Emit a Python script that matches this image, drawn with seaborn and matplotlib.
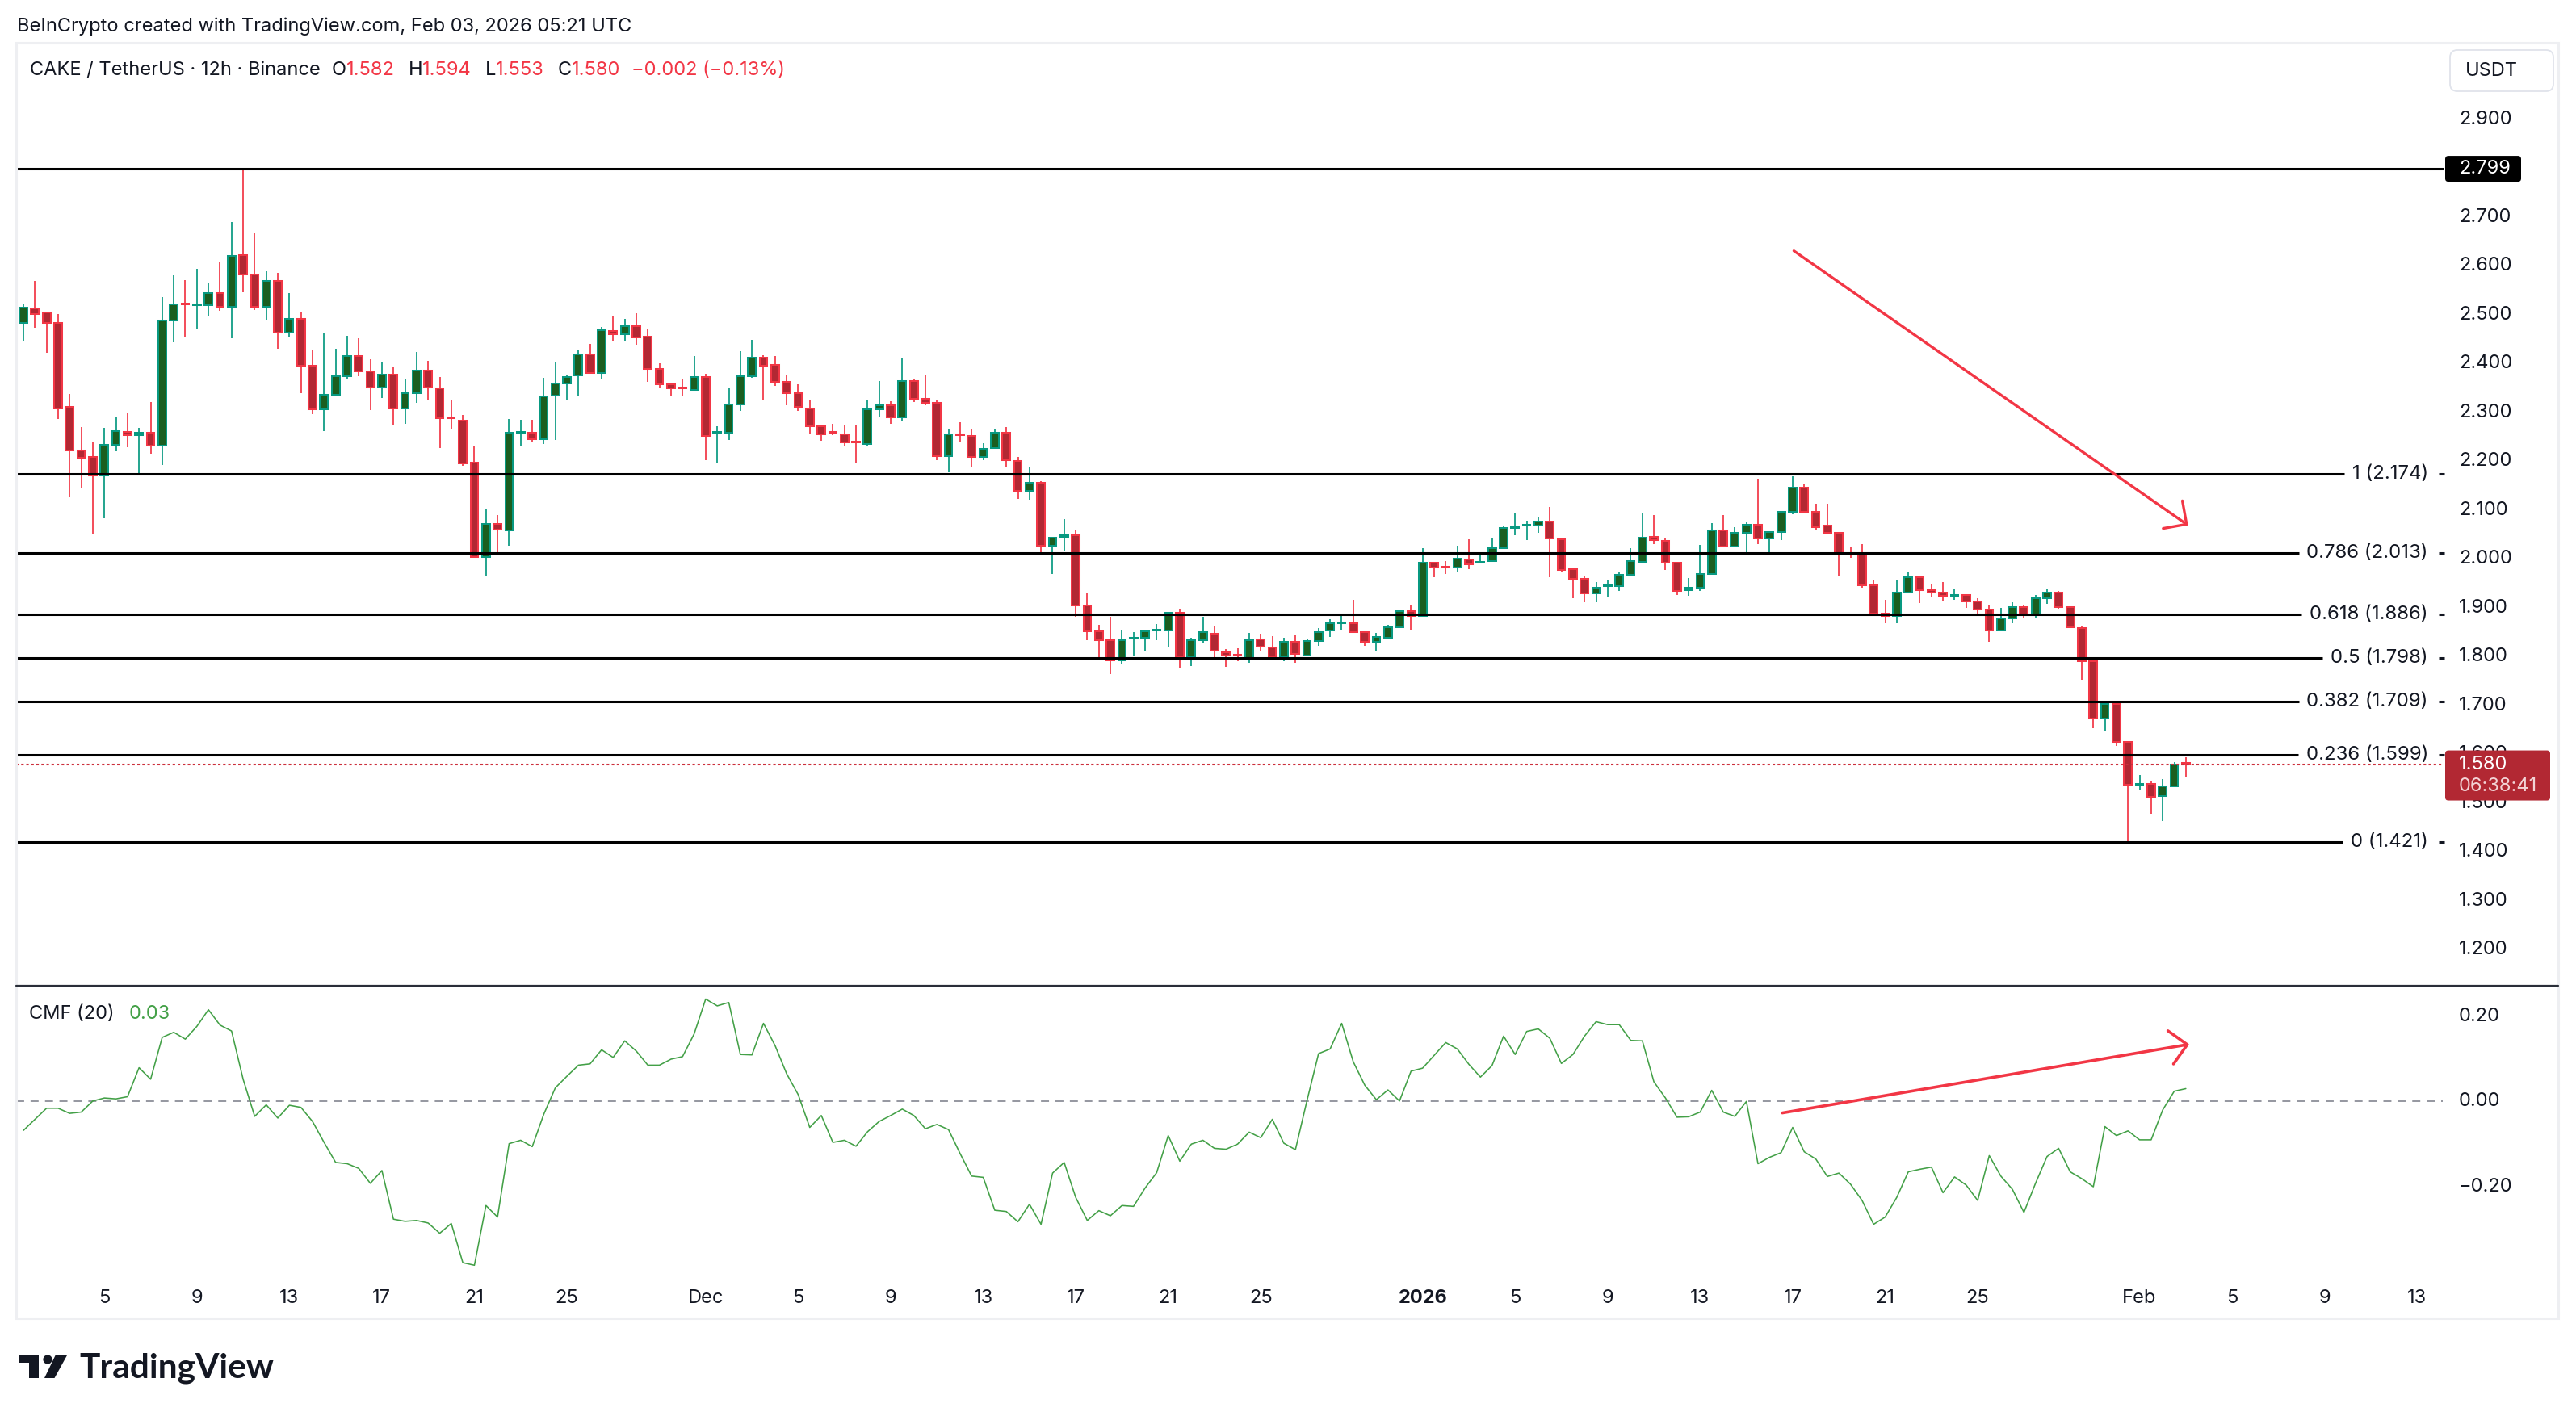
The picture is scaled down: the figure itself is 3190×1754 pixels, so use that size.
import numpy as np
import pandas as pd
import matplotlib.pyplot as plt
import seaborn as sns
from matplotlib.patches import Rectangle, FancyBboxPatch, Polygon, Circle, ArrowStyle
from matplotlib.transforms import blended_transform_factory

# CAKE/USDT 12h candles, Nov 01 2025 12:00 -> Feb 03 2026 00:00
start = pd.Timestamp("2025-11-01 12:00")

open_ = [2.483, 2.514, 2.505, 2.484, 2.311, 2.223, 2.209, 2.171, 2.234, 2.261,
         2.253, 2.259, 2.232, 2.488, 2.523, 2.519, 2.519, 2.544, 2.517, 2.623,
         2.583, 2.516, 2.570, 2.463, 2.492, 2.395, 2.306, 2.337, 2.375, 2.416,
         2.385, 2.352, 2.378, 2.308, 2.339, 2.386, 2.349, 2.289, 2.284, 2.197,
         2.004, 2.072, 2.059, 2.259, 2.259, 2.246, 2.334, 2.359, 2.376, 2.419,
         2.381, 2.467, 2.460, 2.476, 2.455, 2.390, 2.357, 2.351, 2.347, 2.372,
         2.258, 2.258, 2.316, 2.375, 2.412, 2.397, 2.362, 2.340, 2.309, 2.272,
         2.260, 2.256, 2.240, 2.235, 2.307, 2.314, 2.290, 2.365, 2.328, 2.319,
         2.211, 2.256, 2.252, 2.209, 2.227, 2.258, 2.200, 2.139, 2.156, 2.027,
         2.046, 2.049, 1.905, 1.852, 1.834, 1.792, 1.837, 1.838, 1.853, 1.853,
         1.890, 1.800, 1.833, 1.847, 1.809, 1.804, 1.798, 1.836, 1.819, 1.799,
         1.830, 1.803, 1.832, 1.853, 1.868, 1.868, 1.850, 1.831, 1.838, 1.861,
         1.893, 1.883, 1.992, 1.984, 1.982, 1.999, 1.992, 1.995, 2.023, 2.063,
         2.069, 2.068, 2.077, 2.041, 1.979, 1.959, 1.929, 1.945, 1.945, 1.967,
         1.994, 2.046, 2.037, 1.993, 1.936, 1.942, 1.969, 2.059, 2.026, 2.053,
         2.070, 2.042, 2.055, 2.096, 2.146, 2.097, 2.068, 2.053, 2.012, 2.010,
         1.946, 1.889, 1.883, 1.932, 1.962, 1.937, 1.931, 1.923, 1.926, 1.913,
         1.896, 1.854, 1.878, 1.902, 1.887, 1.919, 1.931, 1.902, 1.858, 1.791,
         1.674, 1.703, 1.626, 1.538, 1.540, 1.514, 1.535, 1.582]
high = [2.523, 2.569, 2.506, 2.501, 2.338, 2.271, 2.238, 2.268, 2.291, 2.300,
        2.269, 2.321, 2.537, 2.581, 2.571, 2.594, 2.564, 2.607, 2.690, 2.799,
        2.668, 2.590, 2.586, 2.544, 2.506, 2.427, 2.464, 2.430, 2.457, 2.452,
        2.409, 2.402, 2.392, 2.367, 2.424, 2.405, 2.372, 2.326, 2.295, 2.232,
        2.103, 2.090, 2.286, 2.285, 2.285, 2.371, 2.404, 2.376, 2.427, 2.440,
        2.475, 2.496, 2.491, 2.503, 2.470, 2.400, 2.359, 2.368, 2.416, 2.380,
        2.272, 2.349, 2.426, 2.449, 2.417, 2.416, 2.378, 2.357, 2.326, 2.272,
        2.277, 2.275, 2.274, 2.327, 2.365, 2.323, 2.413, 2.367, 2.376, 2.325,
        2.265, 2.280, 2.266, 2.237, 2.265, 2.270, 2.209, 2.187, 2.159, 2.045,
        2.082, 2.058, 1.930, 1.866, 1.881, 1.853, 1.850, 1.852, 1.867, 1.890,
        1.898, 1.838, 1.881, 1.864, 1.815, 1.818, 1.848, 1.847, 1.842, 1.838,
        1.843, 1.836, 1.858, 1.876, 1.889, 1.916, 1.851, 1.848, 1.866, 1.897,
        1.907, 2.022, 1.992, 1.995, 2.027, 2.040, 2.012, 2.042, 2.069, 2.093,
        2.078, 2.086, 2.107, 2.041, 1.980, 1.965, 1.952, 1.956, 1.974, 2.022,
        2.093, 2.090, 2.044, 1.994, 1.961, 2.029, 2.073, 2.090, 2.065, 2.077,
        2.165, 2.056, 2.099, 2.169, 2.153, 2.113, 2.113, 2.053, 2.025, 2.030,
        1.957, 1.916, 1.956, 1.972, 1.964, 1.949, 1.952, 1.938, 1.928, 1.920,
        1.905, 1.900, 1.912, 1.905, 1.926, 1.938, 1.935, 1.904, 1.862, 1.795,
        1.708, 1.709, 1.628, 1.558, 1.546, 1.550, 1.585, 1.594]
low = [2.445, 2.474, 2.422, 2.287, 2.127, 2.146, 2.052, 2.084, 2.221, 2.229,
       2.171, 2.216, 2.193, 2.444, 2.456, 2.470, 2.497, 2.508, 2.452, 2.546,
       2.510, 2.490, 2.431, 2.454, 2.340, 2.297, 2.262, 2.334, 2.370, 2.374,
       2.305, 2.330, 2.275, 2.277, 2.320, 2.325, 2.227, 2.265, 2.191, 2.004,
       1.966, 2.008, 2.028, 2.230, 2.241, 2.236, 2.244, 2.327, 2.335, 2.381,
       2.370, 2.447, 2.446, 2.439, 2.363, 2.352, 2.333, 2.335, 2.344, 2.203,
       2.198, 2.244, 2.303, 2.371, 2.327, 2.354, 2.314, 2.303, 2.257, 2.242,
       2.253, 2.233, 2.198, 2.233, 2.292, 2.276, 2.281, 2.322, 2.315, 2.203,
       2.177, 2.239, 2.187, 2.203, 2.225, 2.190, 2.123, 2.122, 2.007, 1.970,
       2.015, 1.881, 1.833, 1.794, 1.764, 1.786, 1.801, 1.813, 1.834, 1.820,
       1.776, 1.781, 1.828, 1.795, 1.780, 1.791, 1.788, 1.811, 1.794, 1.791,
       1.788, 1.803, 1.823, 1.841, 1.853, 1.848, 1.823, 1.813, 1.837, 1.860,
       1.855, 1.883, 1.963, 1.970, 1.975, 1.979, 1.992, 1.995, 2.021, 2.048,
       2.038, 2.054, 1.963, 1.975, 1.920, 1.912, 1.912, 1.921, 1.935, 1.967,
       1.994, 2.031, 1.978, 1.927, 1.924, 1.935, 1.969, 2.026, 2.025, 2.012,
       2.031, 2.012, 2.038, 2.092, 2.094, 2.059, 2.054, 1.965, 2.002, 1.942,
       1.887, 1.869, 1.869, 1.932, 1.910, 1.921, 1.915, 1.917, 1.900, 1.883,
       1.830, 1.854, 1.869, 1.878, 1.878, 1.909, 1.898, 1.858, 1.753, 1.654,
       1.648, 1.617, 1.420, 1.528, 1.479, 1.464, 1.535, 1.553]
close = [2.515, 2.502, 2.484, 2.308, 2.223, 2.208, 2.171, 2.234, 2.262, 2.253,
         2.258, 2.232, 2.488, 2.521, 2.521, 2.521, 2.545, 2.517, 2.621, 2.583,
         2.516, 2.570, 2.463, 2.492, 2.395, 2.307, 2.337, 2.375, 2.416, 2.385,
         2.352, 2.378, 2.308, 2.339, 2.386, 2.351, 2.289, 2.288, 2.196, 2.004,
         2.072, 2.060, 2.259, 2.261, 2.246, 2.333, 2.359, 2.373, 2.419, 2.381,
         2.468, 2.460, 2.477, 2.454, 2.390, 2.357, 2.349, 2.349, 2.372, 2.252,
         2.260, 2.316, 2.375, 2.412, 2.396, 2.362, 2.339, 2.311, 2.272, 2.256,
         2.258, 2.239, 2.239, 2.306, 2.314, 2.290, 2.365, 2.328, 2.320, 2.210,
         2.256, 2.253, 2.209, 2.226, 2.258, 2.202, 2.139, 2.156, 2.027, 2.043,
         2.049, 1.905, 1.852, 1.833, 1.792, 1.834, 1.838, 1.852, 1.855, 1.890,
         1.800, 1.833, 1.850, 1.812, 1.803, 1.802, 1.834, 1.820, 1.799, 1.831,
         1.806, 1.832, 1.851, 1.868, 1.870, 1.851, 1.831, 1.840, 1.861, 1.894,
         1.883, 1.992, 1.982, 1.983, 2.000, 1.989, 1.994, 2.023, 2.063, 2.067,
         2.070, 2.077, 2.042, 1.978, 1.959, 1.929, 1.942, 1.946, 1.967, 1.995,
         2.044, 2.039, 1.993, 1.935, 1.942, 1.969, 2.059, 2.026, 2.053, 2.070,
         2.042, 2.055, 2.096, 2.146, 2.097, 2.066, 2.054, 2.010, 2.010, 1.946,
         1.889, 1.883, 1.932, 1.962, 1.937, 1.931, 1.924, 1.926, 1.913, 1.897,
         1.854, 1.878, 1.902, 1.887, 1.919, 1.931, 1.902, 1.860, 1.791, 1.673,
         1.703, 1.625, 1.538, 1.540, 1.513, 1.534, 1.579, 1.580]

# Chaikin Money Flow (20)
cmf = [-0.068, -0.042, -0.016, -0.016, -0.028, -0.025, 0.001, 0.008, 0.006, 0.011,
       0.079, 0.052, 0.150, 0.162, 0.146, 0.176, 0.215, 0.179, 0.165, 0.052,
       -0.035, -0.008, -0.039, -0.009, -0.014, -0.047, -0.096, -0.143, -0.146, -0.157,
       -0.192, -0.162, -0.276, -0.281, -0.279, -0.285, -0.309, -0.286, -0.378, -0.384,
       -0.244, -0.271, -0.099, -0.091, -0.106, -0.030, 0.032, 0.059, 0.085, 0.088,
       0.121, 0.103, 0.142, 0.118, 0.085, 0.085, 0.099, 0.105, 0.158, 0.240,
       0.224, 0.232, 0.110, 0.109, 0.183, 0.131, 0.065, 0.016, -0.061, -0.033,
       -0.096, -0.091, -0.105, -0.071, -0.047, -0.033, -0.018, -0.033, -0.064, -0.054,
       -0.066, -0.122, -0.175, -0.178, -0.255, -0.258, -0.282, -0.241, -0.288, -0.168,
       -0.143, -0.225, -0.279, -0.256, -0.268, -0.244, -0.246, -0.203, -0.167, -0.080,
       -0.140, -0.100, -0.091, -0.110, -0.112, -0.100, -0.072, -0.085, -0.042, -0.098,
       -0.113, 0.002, 0.112, 0.123, 0.183, 0.093, 0.038, 0.004, 0.027, 0.001,
       0.071, 0.078, 0.108, 0.138, 0.123, 0.087, 0.057, 0.084, 0.153, 0.110,
       0.164, 0.170, 0.148, 0.089, 0.110, 0.153, 0.187, 0.180, 0.180, 0.143,
       0.142, 0.046, 0.008, -0.037, -0.036, -0.025, 0.026, -0.025, -0.035, 0.000,
       -0.146, -0.131, -0.120, -0.061, -0.118, -0.135, -0.176, -0.168, -0.194, -0.232,
       -0.288, -0.271, -0.225, -0.165, -0.159, -0.154, -0.214, -0.177, -0.196, -0.232,
       -0.127, -0.175, -0.206, -0.260, -0.192, -0.129, -0.110, -0.165, -0.181, -0.200,
       -0.059, -0.080, -0.069, -0.090, -0.090, -0.020, 0.024, 0.030]

fib_ratio = ["1", "0.786", "0.618", "0.5", "0.382", "0.236", "0"]
fib_price = [2.174, 2.013, 1.886, 1.798, 1.709, 1.599, 1.421]
swing_high = 2.799
last_price = 1.580
countdown = "06:38:41"

price_ticks = [1.2, 1.3, 1.4, 1.5, 1.6, 1.7, 1.8, 1.9, 2.0, 2.1, 2.2, 2.3, 2.4, 2.5, 2.6, 2.7, 2.8, 2.9]
cmf_ticks = [0.2, 0.0, -0.2]
cmf_tick_labels = ["0.20", "0.00", "\u22120.20"]

tick_dates = ["2025-11-05", "2025-11-09", "2025-11-13", "2025-11-17", "2025-11-21", "2025-11-25",
              "2025-12-01", "2025-12-05", "2025-12-09", "2025-12-13", "2025-12-17", "2025-12-21",
              "2025-12-25", "2026-01-01", "2026-01-05", "2026-01-09", "2026-01-13", "2026-01-17",
              "2026-01-21", "2026-01-25", "2026-02-01", "2026-02-05", "2026-02-09", "2026-02-13"]
tick_labels = ["5", "9", "13", "17", "21", "25", "Dec", "5", "9", "13", "17", "21", "25",
               "2026", "5", "9", "13", "17", "21", "25", "Feb", "5", "9", "13"]

# hand drawn arrows (bar index, value)
price_arrow = [(153.1, 2.631), (187.2, 2.069)]
cmf_arrow = [(152.1, -0.027), (187.3, 0.134)]

legend_parts = [("CAKE / TetherUS \u00b7 12h \u00b7 Binance", "dark", 0),
                ("O", "dark", 14), ("1.582", "red", 0),
                ("H", "dark", 17), ("1.594", "red", 0),
                ("L", "dark", 17), ("1.553", "red", 0),
                ("C", "dark", 17), ("1.580", "red", 0),
                ("\u22120.002 (\u22120.13%)", "red", 13)]

# ---------------------------------------------------------------
sns.set_theme(style="white")
plt.rcParams['font.family'] = ['Inter', 'DejaVu Sans']

DARK = "#131722"
RED = "#f23645"
RED_FILL = "#b22833"
GREEN = "#089981"
GREEN_FILL = "#1b5e20"
CMF_GREEN = "#43a047"
FS = 17

W, H = 3190, 1754
fig = plt.figure(figsize=(W / 100, H / 100), dpi=100)
fig.patch.set_facecolor("white")

def fy(ypx):
    return 1 - ypx / H

step_px, first_px = 14.32, 29
frame_l, frame_r, frame_t, frame_b = 20, 3168, 53, 1633
xl = (frame_l - first_px) / step_px
xr = (frame_r - first_px) / step_px

ax = fig.add_axes([frame_l / W, fy(1220), (frame_r - frame_l) / W, (1220 - frame_t) / H])
ax2 = fig.add_axes([frame_l / W, fy(1576), (frame_r - frame_l) / W, (1576 - 1222) / H])
for a in (ax, ax2):
    a.set_xlim(xl, xr)
    a.set_facecolor("none")
    for s in a.spines.values():
        s.set_visible(False)
    a.set_yticks([])
ax.set_xticks([])
ax.set_ylim(1.128, 3.057)
ax2.set_ylim(-0.4005, 0.2693)

def axfrac(xpx):
    return (xpx - frame_l) / (frame_r - frame_l)

def px2idx(xpx):
    return xl + (xr - xl) * axfrac(xpx)

# --- candles
o = np.array(open_); h = np.array(high); l = np.array(low); c = np.array(close)
idx = np.arange(len(o))
up = c >= o
edge = np.where(up, GREEN, RED)
fill = np.where(up, GREEN_FILL, RED_FILL)
ax.vlines(idx, l, h, colors=edge, linewidth=1.25, zorder=2)
ax.bar(idx, np.abs(c - o), bottom=np.minimum(o, c), width=0.68, color=fill,
       edgecolor=edge, linewidth=1.45, zorder=3)

# --- price scale labels
bt = blended_transform_factory(ax.transAxes, ax.transData)
for p in price_ticks:
    ax.text(axfrac(3045), p, f"{p:.3f}", transform=bt, ha="left", va="center",
            fontsize=FS, color=DARK, zorder=1)

# --- fib labels and lines
fib_texts = []
for r, p in zip(fib_ratio, fib_price):
    t = ax.text(axfrac(3007), p, f"{r} ({p:.3f})", transform=bt, ha="right",
                va="center", fontsize=FS + 0.3, color=DARK, zorder=6)
    fib_texts.append(t)
    ax.plot([px2idx(3020), px2idx(3027)], [p, p], color=DARK, lw=2.2, zorder=6,
            solid_capstyle="butt")
fig.canvas.draw()
renderer = fig.canvas.get_renderer()
for t, p in zip(fib_texts, fib_price):
    x0 = t.get_window_extent(renderer).x0
    xend = ax.transData.inverted().transform((x0 - 10, 0))[0]
    ax.hlines(p, xl, xend, color="black", lw=2.2, zorder=5)
ax.hlines(swing_high, xl, px2idx(3026), color="black", lw=2.2, zorder=5)

# current price line
ax.hlines(last_price, xl, px2idx(3027), color="#cc2f3c", lw=1.5,
          linestyles=(0, (1.5, 1.5)), zorder=4)

# arrow in price pane
ax.annotate("", xy=price_arrow[1], xytext=price_arrow[0],
            arrowprops=dict(arrowstyle=ArrowStyle("->", head_length=1.5, head_width=1.5),
                            mutation_scale=10, color=RED, lw=2.4, shrinkA=0, shrinkB=0),
            zorder=7)

# --- CMF pane
sns.lineplot(x=idx, y=cmf, ax=ax2, color=CMF_GREEN, linewidth=1.15, zorder=3)
ax2.hlines(0, xl, px2idx(3025), color="#787b86", lw=1.1, linestyles=(0, (6.5, 5.2)), zorder=2)
bt2 = blended_transform_factory(ax2.transAxes, ax2.transData)
for v, lab in zip(cmf_ticks, cmf_tick_labels):
    ax2.text(axfrac(3045), v, lab, transform=bt2, ha="left", va="center",
             fontsize=FS, color=DARK)
ax2.annotate("", xy=cmf_arrow[1], xytext=cmf_arrow[0],
             arrowprops=dict(arrowstyle=ArrowStyle("->", head_length=1.5, head_width=1.5),
                             mutation_scale=10, color=RED, lw=2.6, shrinkA=0, shrinkB=0),
             zorder=7)

# date axis
tpos = [(pd.Timestamp(d) - start) / pd.Timedelta("12h") for d in tick_dates]
ax2.set_xticks(tpos)
ax2.set_xticklabels(tick_labels, fontsize=FS, color=DARK)
ax2.tick_params(axis="x", length=0, pad=15)
for lab in ax2.get_xticklabels():
    if lab.get_text() == "2026":
        lab.set_fontweight("bold")
ax2.set_xlabel("")
ax2.set_ylabel("")

# --- overlay in pixel coordinates
ov = fig.add_axes([0, 0, 1, 1])
ov.set_xlim(0, W)
ov.set_ylim(H, 0)
ov.axis("off")

def price_px(p):
    return H - ax.transData.transform((0, p))[1]

ov.add_patch(Rectangle((frame_l, frame_t), frame_r - frame_l, frame_b - frame_t,
                       fill=False, ec="#eeeff2", lw=2.2))
ov.plot([frame_l, frame_r], [1221, 1221], color="#2a2e39", lw=1.6)

ov.text(21, 39, "BeInCrypto created with TradingView.com, Feb 03, 2026 05:21 UTC",
        fontsize=FS, color=DARK, va="baseline", ha="left")

prev = ov.text(37, 93, legend_parts[0][0], fontsize=FS, color=DARK,
               va="baseline", ha="left")
for txt, col, gap in legend_parts[1:]:
    prev = ov.annotate(txt, xy=(1, 0), xycoords=prev, xytext=(gap * 0.72, 0),
                       textcoords="offset points", va="bottom", ha="left",
                       fontsize=FS, color=RED if col == "red" else DARK)

cm = ov.text(36, 1262, "CMF (20)", fontsize=FS, color=DARK, va="baseline", ha="left")
ov.annotate(f"{cmf[-1]:.2f}", xy=(1, 0), xycoords=cm, xytext=(13, 0),
            textcoords="offset points", va="bottom", ha="left", fontsize=FS, color=CMF_GREEN)

# USDT box
ov.add_patch(FancyBboxPatch((3034, 62), 128, 51, boxstyle="round,pad=0,rounding_size=9",
                            fc="white", ec="#e0e3eb", lw=1.3))
ov.text(3053, 88, "USDT", fontsize=FS, color=DARK, va="center", ha="left")

# swing high label
yh = price_px(swing_high)
ov.add_patch(FancyBboxPatch((3028, yh - 16), 94, 32, boxstyle="round,pad=0,rounding_size=4",
                            fc="black", ec="none", zorder=5))
ov.text(3045, yh, f"{swing_high:.3f}", fontsize=FS, color="white", va="center",
        ha="left", zorder=6)

# last price label
yl = price_px(last_price)
ov.add_patch(FancyBboxPatch((3028, yl - 17), 130, 62, boxstyle="round,pad=0,rounding_size=4",
                            fc=RED_FILL, ec="none", zorder=5))
ov.text(3045, yl, f"{last_price:.3f}", fontsize=FS, color="white", va="center",
        ha="left", zorder=6)
ov.text(3045, yl + 27, countdown, fontsize=FS, color="#f3d3d6", va="center",
        ha="left", zorder=6)

# TradingView logo
ov.add_patch(Rectangle((24, 1678), 24.3, 10, fc=DARK, ec="none"))
ov.add_patch(Rectangle((36, 1678), 12.3, 29, fc=DARK, ec="none"))
ov.add_patch(Circle((59, 1684), 5.6, fc=DARK, ec="none"))
ov.add_patch(Polygon([(69, 1678), (83.5, 1678), (67.5, 1707), (55, 1707)], closed=True,
                     fc=DARK, ec="none"))
ov.text(98, 1707, "TradingView", fontsize=30.5, fontweight="bold", color=DARK,
        family=["Lato", "DejaVu Sans"], va="baseline", ha="left")

fig.savefig("out.png", dpi=100, facecolor="white")
